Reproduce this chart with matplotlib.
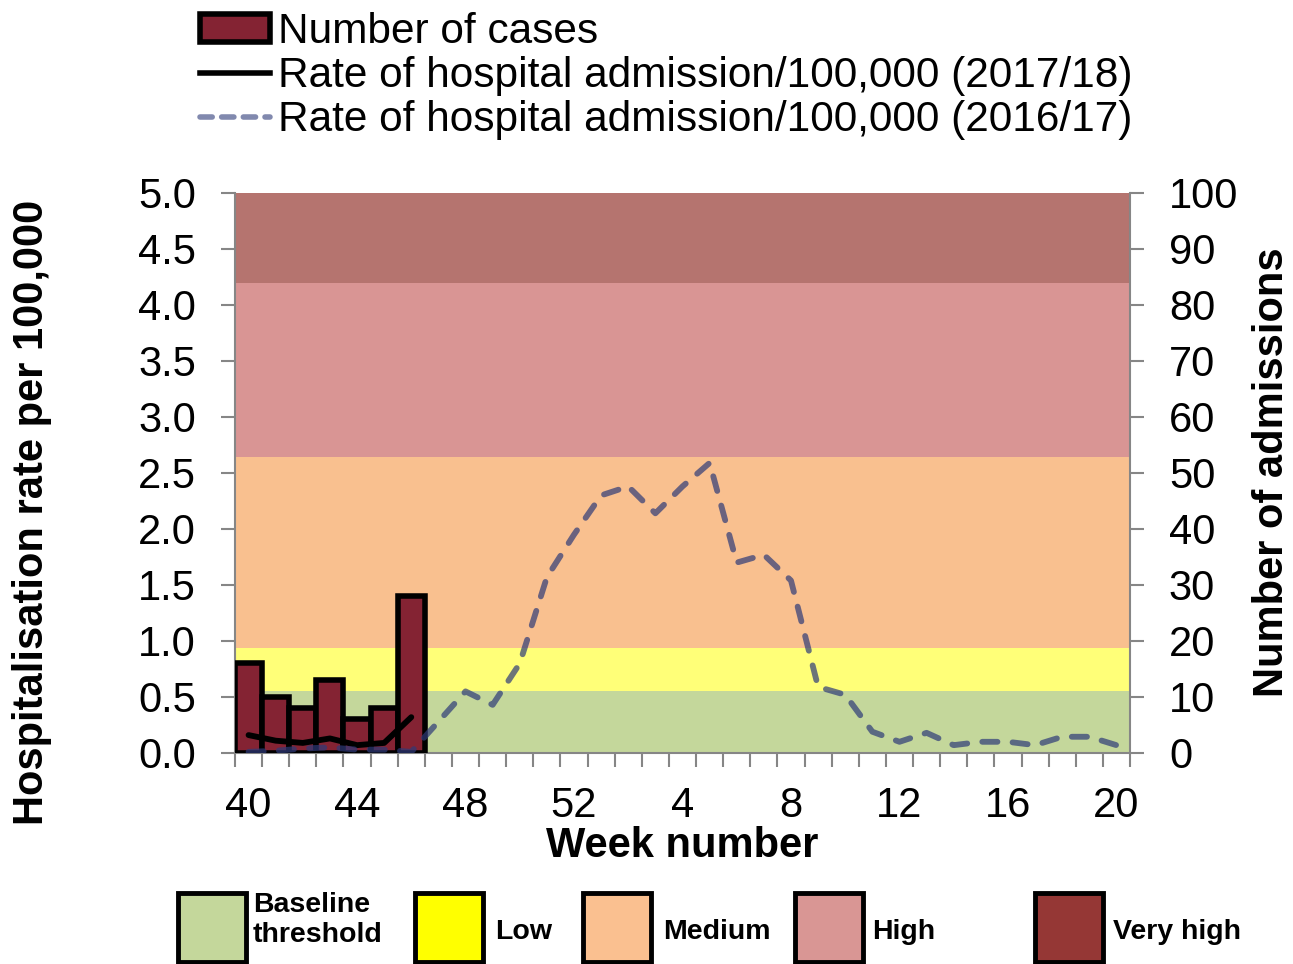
import numpy as np
import matplotlib
matplotlib.use('Agg')
import matplotlib.pyplot as plt
from matplotlib.patches import Patch, Rectangle
from matplotlib.lines import Line2D

plt.rcParams['font.family'] = ['Liberation Sans', 'DejaVu Sans']

# week numbers 40..52 then 1..20
weeks = list(range(40, 53)) + list(range(1, 21))

# 2017/18 season so far
cases_1718 = [16, 10, 8, 13, 6, 8, 28]
rate_1718 = [0.16, 0.11, 0.09, 0.13, 0.07, 0.09, 0.32]

# 2016/17 season, full
rate_1617 = [0.01, 0.02, 0.04, 0.05, 0.03, 0.03, 0.01,
             0.28, 0.55, 0.43, 0.80, 1.57, 1.95,
             2.30, 2.38, 2.14, 2.38, 2.59, 1.70, 1.77, 1.54, 0.59, 0.52,
             0.19, 0.10, 0.18, 0.07, 0.10, 0.10, 0.07, 0.145, 0.145, 0.07]

# intensity thresholds (rate per 100,000)
thresholds = [0, 0.553, 0.94, 2.64, 4.2, 5.0]
band_names = ['Baseline\nthreshold', 'Low', 'Medium', 'High', 'Very high']
band_colors = ['#c4d79b', '#ffff78', '#f9c08f', '#d99594', '#b5746f']
key_colors = ['#c4d79b', '#ffff00', '#fac090', '#d99694', '#953735']

bar_color = '#842333'
dash_color = '#2e3a78'
grey = '#868686'

W, H = 1293, 964
fig = plt.figure(figsize=(W / 100, H / 100), dpi=100)
ax = fig.add_axes([235 / W, 1 - 753 / H, 895 / W, 560 / H])

x = np.arange(len(weeks))

# background intensity bands
for lo, hi, c in zip(thresholds[:-1], thresholds[1:], band_colors):
    ax.axhspan(lo, hi, color=c, lw=0)
ax.set_ylim(0, 5)
ax.set_xlim(-0.5, len(weeks) - 0.5)

# bars on the admissions axis
ax2 = ax.twinx()
ax2.bar(x[:len(cases_1718)], cases_1718, width=1.0, color=bar_color,
        edgecolor='black', linewidth=4)
ax2.set_ylim(0, 100)

# lines on top, rate scale
ax3 = ax.twinx()
ax3.plot(x[:len(rate_1718)], rate_1718, color='black', lw=4.2,
         solid_capstyle='round')
ax3.plot(x, rate_1617, color=dash_color, alpha=0.7, lw=4.2,
         linestyle=(0, (2.6, 2.6)), dash_capstyle='round')
ax3.set_ylim(0, 5)
ax3.axis('off')

# x ticks: labels at every 4th week, marks at category boundaries
ax.set_xticks(x[::4])
ax.set_xticklabels([str(w) for w in weeks[::4]])
ax.set_xticks(np.arange(-0.5, len(weeks)), minor=True)
ax.tick_params(axis='x', which='major', length=0, pad=24, labelsize=30)
ax.tick_params(axis='x', which='minor', length=10, width=1.5, color=grey)

ax.set_yticks(np.arange(0, 5.01, 0.5))
ax.set_yticklabels([f'{v:.1f}' for v in np.arange(0, 5.01, 0.5)])
ax.tick_params(axis='y', length=10, width=1.5, color=grey, pad=18,
               labelsize=30)
ax2.set_yticks(np.arange(0, 101, 10))
ax2.tick_params(axis='y', length=10, width=1.5, color=grey, pad=18,
                labelsize=30)

for a in (ax, ax2):
    for s in a.spines.values():
        s.set_visible(False)
ax.spines['left'].set_visible(True)
ax.spines['bottom'].set_visible(True)
ax2.spines['right'].set_visible(True)
for s in (ax.spines['left'], ax.spines['bottom'], ax2.spines['right']):
    s.set_color(grey)
    s.set_linewidth(1.5)

ax.set_xlabel('Week number', fontsize=30, fontweight='bold', labelpad=0)
ax.set_ylabel('Hospitalisation rate per 100,000', fontsize=30,
              fontweight='bold')
ax.yaxis.set_label_coords(-0.2045, 0.43)
ax2.set_ylabel('Number of admissions', fontsize=30, fontweight='bold',
               rotation=90)
ax2.yaxis.set_label_coords(1.136, 0.502)

# top legend
handles = [
    Patch(facecolor=bar_color, edgecolor='black', linewidth=4),
    Line2D([], [], color='black', lw=4),
    Line2D([], [], color=dash_color, alpha=0.6, lw=4,
           linestyle=(0, (2.2, 1.7)), dash_capstyle='round'),
]
labels = ['Number of cases',
          'Rate of hospital admission/100,000 (2017/18)',
          'Rate of hospital admission/100,000 (2016/17)']
fig.legend(handles, labels, loc='upper left',
           bbox_to_anchor=(200 / W, 1 - 12 / H), frameon=False, fontsize=30.5,
           handlelength=1.65, handletextpad=0.2, labelspacing=0.1,
           handleheight=0.65, borderpad=0, borderaxespad=0)

# intensity key along the bottom
box_left = [178, 415, 583, 795, 1035]
text_left = [253, 495, 663, 872, 1113]
for bx, tx, name, c in zip(box_left, text_left, band_names, key_colors):
    fig.add_artist(Rectangle((bx / W, 1 - 962 / H), 68 / W, 69 / H,
                             transform=fig.transFigure, facecolor=c,
                             edgecolor='black', linewidth=3.5))
    ty = 920 if '\n' in name else 932
    fig.text(tx / W, 1 - ty / H, name, fontsize=20.5, fontweight='bold',
             va='center', ha='left', linespacing=1.2)

fig.savefig('out.png', dpi=100)
